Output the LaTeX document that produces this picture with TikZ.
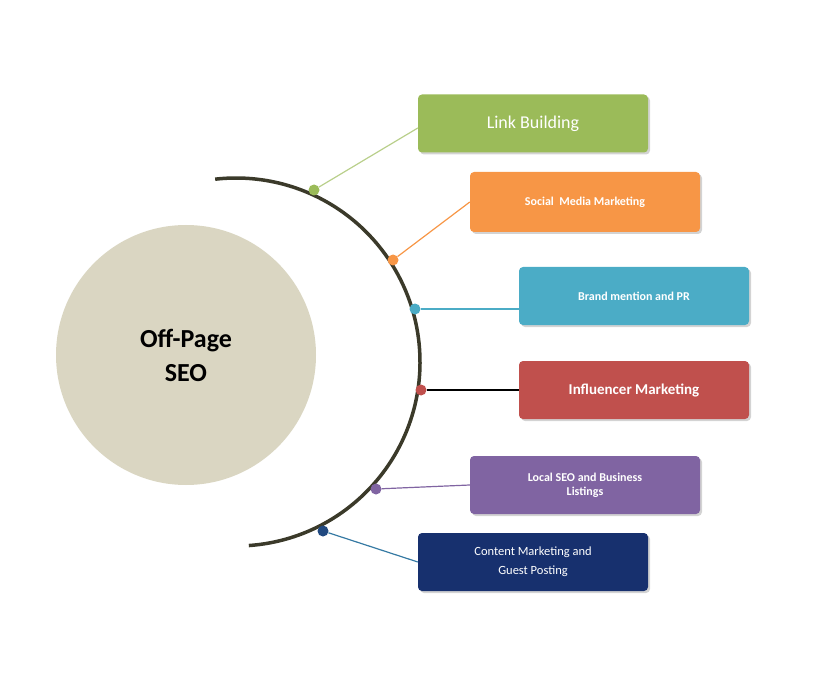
\documentclass[tikz,border=0pt]{standalone}
\usepackage{fontspec}
\setmainfont{Carlito}
\usetikzlibrary{shadows}
\definecolor{cgreen}{HTML}{9BBB59}
\definecolor{corange}{HTML}{F79646}
\definecolor{cblue}{HTML}{4BACC6}
\definecolor{cred}{HTML}{C0504D}
\definecolor{cpurple}{HTML}{8064A2}
\definecolor{cnavy}{HTML}{17306E}
\definecolor{cbeige}{HTML}{DAD6C2}
\definecolor{carc}{HTML}{3B3A2A}
\tikzset{
  itembox/.style={rounded corners=4pt, minimum width=230pt, minimum height=58pt, text=white, align=center, font=\bfseries\fontsize{12}{14}\selectfont, inner sep=2pt, drop shadow={opacity=0.35, shadow xshift=2pt, shadow yshift=-2pt}},
  dot/.style={circle, minimum size=11pt, inner sep=0pt},
  link/.style={line width=1.2pt}
}
\begin{document}
\begin{tikzpicture}[x=1pt,y=-1pt]
\useasboundingbox (0,0) rectangle (831,682);
\node[circle, fill=cbeige, minimum size=260pt, inner sep=0pt, align=center, font=\bfseries\fontsize{26}{34}\selectfont] (hub) at (186,355) {Off-Page\\SEO};
\draw[carc, line width=3.5pt] (236,362) ++(86:184) arc[start angle=86, end angle=-96.5, radius=184];
\node[itembox, fill=cgreen, font=\fontsize{18}{20}\selectfont] (b1) at (533,123.5) {Link Building};
\node[itembox, fill=corange, minimum height=60pt] (b2) at (585,202) {Social\ \ Media Marketing};
\node[itembox, fill=cblue] (b3) at (634,296) {Brand mention and PR};
\node[itembox, fill=cred, font=\bfseries\fontsize{15}{17}\selectfont] (b4) at (634,390) {Influencer Marketing};
\node[itembox, fill=cpurple] (b5) at (585,485) {Local SEO and Business\\Listings};
\node[itembox, fill=cnavy, font=\fontsize{12.5}{19}\selectfont] (b6) at (533,562) {Content Marketing and\\Guest Posting};
\node[dot, fill=cgreen] (d1) at (314,190) {};
\node[dot, fill=corange] (d2) at (393,260) {};
\node[dot, fill=cblue] (d3) at (415,309) {};
\node[dot, fill=cred] (d4) at (421,390) {};
\node[dot, fill=cpurple] (d5) at (376,489) {};
\node[dot, fill=cnavy!80!cblue] (d6) at (323,531) {};
\draw[link, cgreen!70!white] (d1) -- (b1.west|-0,128);
\draw[link, corange] (d2) -- (b2.west);
\draw[link, cblue] (d3) -- (b3.west|-d3);
\draw[link, black] (d4) -- (b4.west);
\draw[link, cpurple] (d5) -- (b5.west);
\draw[link, cblue!60!cnavy] (d6) -- (b6.west);
\end{tikzpicture}
\end{document}
